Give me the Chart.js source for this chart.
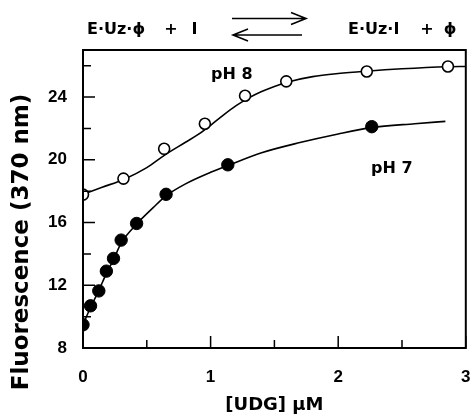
<!DOCTYPE html>
<html>
<head>
<meta charset="utf-8">
<script src="https://cdn.jsdelivr.net/npm/chart.js@4.4.0/dist/chart.umd.min.js"></script>
<style>
  html, body { margin: 0; padding: 0; background: #fff; }
  canvas { display: block; }
</style>
</head>
<body>
<canvas id="chart" width="473" height="417"></canvas>
<script>
// ── DATA ───────────────────────────────────────────────────────
const udgPh8   = [0, 0.317, 0.636, 0.955, 1.27, 1.593, 2.224, 2.86];
const fluorPh8 = [17.78, 18.8, 20.7, 22.3, 24.08, 25.0, 25.63, 25.95];
const udgPh7   = [0, 0.059, 0.124, 0.183, 0.239, 0.299, 0.42, 0.651, 1.135, 2.263];
const fluorPh7 = [9.48, 10.69, 11.64, 12.9, 13.71, 14.88, 15.94, 17.8, 19.68, 22.11];

// fitted curves
const fitXPh8 = [0, 0.15, 0.32, 0.5, 0.64, 0.8, 0.9, 1.0, 1.1, 1.2, 1.3, 1.4, 1.5, 1.6, 1.8, 2.0, 2.22, 2.5, 2.86, 3.0];
const fitYPh8 = [17.8, 18.25, 18.75, 19.5, 20.3, 21.1, 21.6, 22.2, 22.85, 23.45, 23.95, 24.35, 24.68, 24.95, 25.3, 25.5, 25.65, 25.8, 25.93, 25.95];
const fitXPh7 = [0, 0.06, 0.12, 0.18, 0.24, 0.3, 0.42, 0.55, 0.65, 0.8, 1.0, 1.14, 1.4, 1.7, 2.0, 2.26, 2.6, 2.84];
const fitYPh7 = [9.5, 10.6, 11.6, 12.7, 13.65, 14.7, 15.9, 16.95, 17.7, 18.45, 19.2, 19.65, 20.45, 21.1, 21.65, 22.05, 22.3, 22.45];

const xTicks = [0, 1, 2, 3];
const yTicks = [8, 12, 16, 20, 24];
const xMinor = [0.5, 1.5, 2.5];
const yMinor = [10, 14, 18, 22, 26];

const pair = (xs, ys) => xs.map((v, i) => ({ x: v, y: ys[i] }));

const TICK_FONT = { family: 'Liberation Sans', weight: 'bold', size: 17 };
const LABEL_FONT = '"DejaVu Sans", sans-serif';

// ── FRAME, INWARD TICKS, ANNOTATIONS ───────────────────────────
const figureDecor = {
  id: 'figureDecor',
  afterDraw(chart) {
    const { ctx, chartArea: a, scales: { x, y } } = chart;
    ctx.save();
    ctx.strokeStyle = '#000';
    ctx.fillStyle = '#000';

    ctx.lineWidth = 2;
    ctx.strokeRect(a.left, a.top, a.right - a.left, a.bottom - a.top);

    ctx.lineWidth = 1.5;
    ctx.beginPath();
    xTicks.forEach(v => { const p = x.getPixelForValue(v); ctx.moveTo(p, a.bottom); ctx.lineTo(p, a.bottom - 12); });
    xMinor.forEach(v => { const p = x.getPixelForValue(v); ctx.moveTo(p, a.bottom); ctx.lineTo(p, a.bottom - 8); });
    yTicks.forEach(v => { const p = y.getPixelForValue(v); ctx.moveTo(a.left, p); ctx.lineTo(a.left + 12, p); });
    yMinor.forEach(v => { const p = y.getPixelForValue(v); ctx.moveTo(a.left, p); ctx.lineTo(a.left + 8, p); });
    ctx.stroke();

    // curve labels
    ctx.font = 'bold 16px ' + LABEL_FONT;
    ctx.textAlign = 'center';
    ctx.textBaseline = 'middle';
    ctx.fillText('pH 8', x.getPixelForValue(1.166), y.getPixelForValue(25.4));
    ctx.fillText('pH 7', x.getPixelForValue(2.42), y.getPixelForValue(19.41));

    // y axis title (sits lower than the axis centre in the original)
    ctx.save();
    ctx.translate(22, a.top + 192);
    ctx.rotate(-Math.PI / 2);
    ctx.font = 'bold 23px ' + LABEL_FONT;
    ctx.fillText('Fluorescence (370 nm)', 0, 0);
    ctx.restore();

    // reaction scheme above the plot
    const ty = a.top - 20;
    ctx.font = 'bold 16px ' + LABEL_FONT;
    ctx.textAlign = 'left';
    ctx.fillText('E·Uz·ϕ', 87, ty);
    ctx.fillText('E·Uz·I', 348, ty);
    ctx.textAlign = 'center';
    ctx.fillText('+', 171, ty);
    ctx.fillText('I', 194.5, ty);
    ctx.fillText('+', 427, ty);
    ctx.fillText('ϕ', 450, ty);

    ctx.lineWidth = 1.6;
    ctx.beginPath();
    ctx.moveTo(232, a.top - 31.5); ctx.lineTo(306, a.top - 31.5);
    ctx.moveTo(291, a.top - 37.5); ctx.lineTo(306, a.top - 31.5); ctx.lineTo(291, a.top - 25.5);
    ctx.moveTo(233, a.top - 15); ctx.lineTo(302, a.top - 15);
    ctx.moveTo(248, a.top - 21); ctx.lineTo(233, a.top - 15); ctx.lineTo(248, a.top - 9);
    ctx.stroke();

    ctx.restore();
  }
};

// ── CHART ──────────────────────────────────────────────────────
const ctx = document.getElementById('chart').getContext('2d');
new Chart(ctx, {
  type: 'scatter',
  data: {
    datasets: [
      { label: 'pH 8', data: pair(udgPh8, fluorPh8), pointRadius: 5.5,
        pointBackgroundColor: '#fff', pointBorderColor: '#000', pointBorderWidth: 1.6 },
      { label: 'pH 7', data: pair(udgPh7, fluorPh7), pointRadius: 6.2,
        pointBackgroundColor: '#000', pointBorderColor: '#000', pointBorderWidth: 1 },
      { label: 'fit pH 8', data: pair(fitXPh8, fitYPh8), showLine: true, pointRadius: 0,
        borderColor: '#000', borderWidth: 1.6, cubicInterpolationMode: 'monotone' },
      { label: 'fit pH 7', data: pair(fitXPh7, fitYPh7), showLine: true, pointRadius: 0,
        borderColor: '#000', borderWidth: 1.6, cubicInterpolationMode: 'monotone' },
    ]
  },
  options: {
    responsive: false,
    animation: false,
    devicePixelRatio: 1,
    layout: { padding: { top: 50, right: 4, bottom: 0, left: 0 } },
    plugins: { legend: { display: false }, tooltip: { enabled: false } },
    scales: {
      x: {
        type: 'linear', min: 0, max: 3,
        grid: { display: false, drawTicks: false }, border: { display: false },
        afterBuildTicks: s => { s.ticks = xTicks.map(v => ({ value: v })); },
        afterFit: s => { s.height = 69; s.paddingLeft = 0; s.paddingRight = 0; },
        ticks: { color: '#000', font: TICK_FONT, padding: 19, maxRotation: 0, autoSkip: false },
        title: { display: true, text: '[UDG] μM', color: '#000',
                 font: { family: 'DejaVu Sans', weight: 'bold', size: 18 }, padding: { top: 0, bottom: 1 } }
      },
      y: {
        type: 'linear', min: 8, max: 27,
        grid: { display: false, drawTicks: false }, border: { display: false },
        afterBuildTicks: s => { s.ticks = yTicks.map(v => ({ value: v })); },
        afterFit: s => { s.width = 83; s.paddingTop = 0; s.paddingBottom = 0; },
        ticks: { color: '#000', font: TICK_FONT, padding: 16, autoSkip: false }
      }
    }
  },
  plugins: [figureDecor]
});
</script>
</body>
</html>
